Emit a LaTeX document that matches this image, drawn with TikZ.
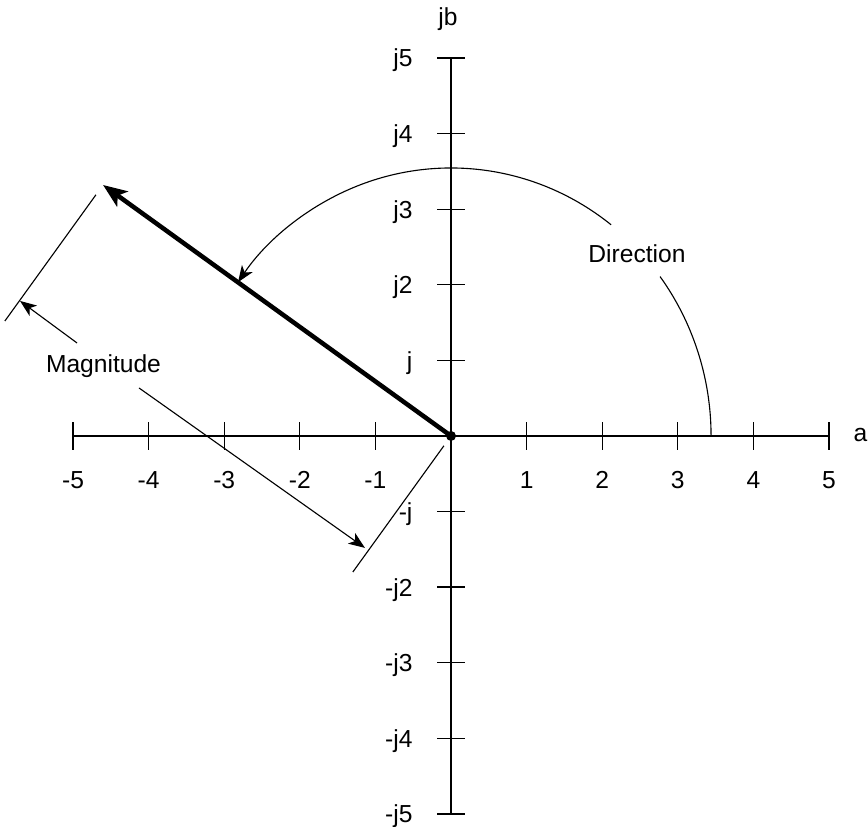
\documentclass[tikz,border=0pt]{standalone}
\usepackage{fontspec}
\setmainfont{Liberation Sans}
\usetikzlibrary{arrows.meta}
\begin{document}
\begin{tikzpicture}[
  axisline/.style={line width=0.5pt},
  tickline/.style={line width=0.5pt},
  thinline/.style={line width=0.42pt},
  thinarrow/.style={thinline, -{Stealth[length=6.2pt,width=4.8pt,inset=1.7pt]}},
  vecarrow/.style={line width=1.7pt, -{Stealth[length=9pt,width=7pt,inset=2.2pt]}},
  lbl/.style={inner sep=0pt, font=\fontsize{9.26}{11}\selectfont}
]
\useasboundingbox (-5.966,-5.172) rectangle (5.516,5.767);
% named points
\coordinate (O) at (0,0);
\coordinate (xL) at (-5,0);
\coordinate (xR) at (5,0);
\coordinate (yT) at (0,5);
\coordinate (yB) at (0,-5);
\coordinate (tip) at (-4.603,3.320);
% axes
\draw[axisline] (xL) -- (xR);
\draw[axisline] (yB) -- (yT);
% x ticks and labels
\foreach \k in {-5,-4,-3,-2,-1,1,2,3,4,5}{
  \draw[tickline] (\k,-0.185) -- (\k,0.185);
  \node[lbl, anchor=base] (xl\k) at (\k,-0.701) {\k};
}
% y ticks
\foreach \k in {-5,-4,-3,-2,-1,1,2,3,4,5}{
  \draw[tickline] (-0.185,\k) -- (0.185,\k);
}
\node[lbl, anchor=base east] (y5) at (-0.503,4.883) {j5};
\node[lbl, anchor=base east] (y4) at (-0.503,3.883) {j4};
\node[lbl, anchor=base east] (y3) at (-0.503,2.883) {j3};
\node[lbl, anchor=base east] (y2) at (-0.503,1.883) {j2};
\node[lbl, anchor=base east] (y1) at (-0.503,0.883) {j};
\node[lbl, anchor=base east] (ym1) at (-0.503,-1.117) {-j};
\node[lbl, anchor=base east] (ym2) at (-0.503,-2.117) {-j2};
\node[lbl, anchor=base east] (ym3) at (-0.503,-3.117) {-j3};
\node[lbl, anchor=base east] (ym4) at (-0.503,-4.117) {-j4};
\node[lbl, anchor=base east] (ym5) at (-0.503,-5.117) {-j5};
\node[lbl, anchor=base west] (alab) at (5.317,-0.079) {a};
\node[lbl, anchor=base] (jblab) at (-0.04,5.43) {jb};
% direction arc
\node[lbl, anchor=base] (dir) at (2.460,2.288) {Direction};
\draw[thinline] (3.44,0) arc[start angle=0,end angle=36.5,x radius=3.44,y radius=3.545];
\draw[thinarrow] ({3.44*cos(52)},{3.545*sin(52)}) arc[start angle=52,end angle=145,x radius=3.44,y radius=3.545];
% vector
\draw[vecarrow] (O) -- (tip);
\fill (O) circle[radius=0.066];
% extension lines
\coordinate (e1a) at (-4.697,3.190);
\coordinate (e1b) at (-5.902,1.520);
\coordinate (e2a) at (-0.094,-0.130);
\coordinate (e2b) at (-1.299,-1.800);
\draw[thinline] (e1a) -- (e1b);
\draw[thinline] (e2a) -- (e2b);
% magnitude dimension
\node[lbl, anchor=base] (mag) at (-4.597,0.833) {Magnitude};
\coordinate (dA) at (-5.701,1.786);
\coordinate (dB) at (-1.138,-1.481);
\coordinate (m1) at (-4.947,1.230);
\coordinate (m2) at (-4.127,0.635);
\draw[thinarrow] (m1) -- (dA);
\draw[thinarrow] (m2) -- (dB);
\end{tikzpicture}
\end{document}
